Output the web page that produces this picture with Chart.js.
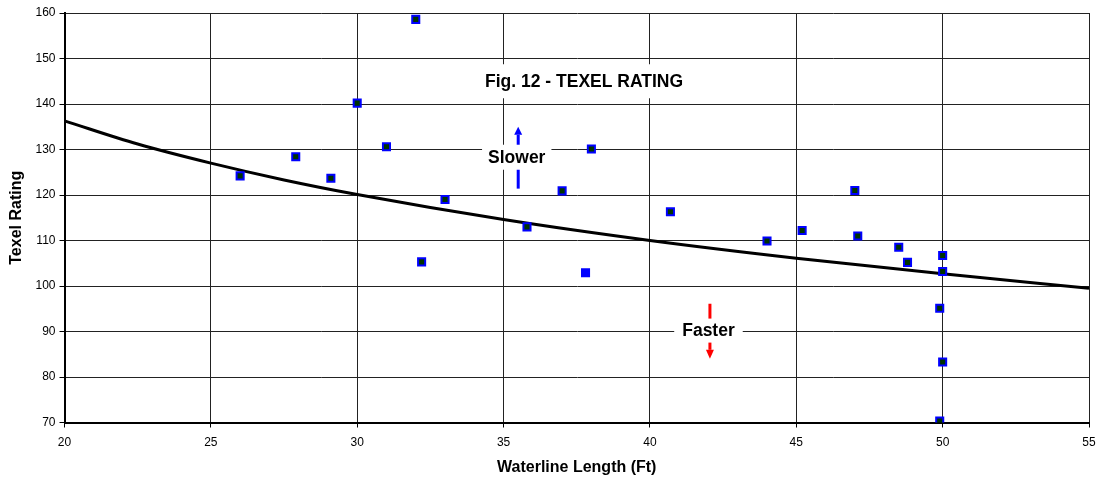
<!DOCTYPE html>
<html>
<head>
<meta charset="utf-8">
<script src="https://cdn.jsdelivr.net/npm/chart.js@4.4.1/dist/chart.umd.min.js"></script>
<style>
  html, body { margin: 0; padding: 0; background: #fff; }
  #wrap { width: 1099px; height: 477px; position: relative; }
</style>
</head>
<body>
<div id="wrap"><canvas id="c"></canvas></div>
<script>
// ---- data ----
const boatLengths = [26.0, 27.9, 29.1, 30.0, 31.0, 32.0, 32.2, 33.0, 35.8, 37.0, 38.0, 40.7, 44.0, 45.2, 47.0, 47.1, 48.5, 48.8, 50.0, 50.0, 49.9, 50.0, 49.9];
const boatRatings = [124.2, 128.4, 123.7, 140.2, 130.6, 158.6, 105.3, 119.0, 113.0, 120.9, 130.1, 116.3, 109.9, 112.2, 121.0, 111.0, 108.5, 105.2, 106.7, 103.2, 95.1, 83.3, 70.3];
const highlightLengths = [37.8];
const highlightRatings = [102.9];
const trendLengths = [20, 22.5, 25, 27.5, 30, 35, 40, 45, 50, 55];
const trendRatings = [136.3, 131.2, 127.0, 123.3, 120.1, 114.6, 110.0, 106.1, 102.7, 99.5];
const xTickValues = [20, 25, 30, 35, 40, 45, 50, 55];
const yTickValues = [70, 80, 90, 100, 110, 120, 130, 140, 150, 160];
const chartTitle = 'Fig. 12 - TEXEL RATING';
const xTitle = 'Waterline Length (Ft)';
const yTitle = 'Texel Rating';
const slowerText = 'Slower';
const fasterText = 'Faster';

Chart.defaults.font.family = "'Liberation Sans', Arial, sans-serif";
Chart.defaults.color = '#000';

const toPts = (xs, ys) => xs.map((v, i) => ({ x: v, y: ys[i] }));

function drawArrow(ctx, px, yFrom, yTo, color, lw, headW, headL) {
  const dir = yTo < yFrom ? -1 : 1;
  ctx.strokeStyle = color;
  ctx.fillStyle = color;
  ctx.lineWidth = lw;
  ctx.beginPath();
  ctx.moveTo(px, yFrom);
  ctx.lineTo(px, yTo - dir * headL);
  ctx.stroke();
  ctx.beginPath();
  ctx.moveTo(px, yTo);
  ctx.lineTo(px - headW / 2, yTo - dir * headL);
  ctx.lineTo(px + headW / 2, yTo - dir * headL);
  ctx.closePath();
  ctx.fill();
}

function boxedText(ctx, text, cx, cy, padX, h) {
  ctx.font = "bold 17.5px 'Liberation Sans', Arial, sans-serif";
  const w = ctx.measureText(text).width;
  ctx.fillStyle = '#fff';
  ctx.fillRect(cx - w / 2 - padX, cy - h / 2, w + 2 * padX, h);
  ctx.fillStyle = '#000';
  ctx.textAlign = 'center';
  ctx.textBaseline = 'middle';
  ctx.fillText(text, cx, cy + 1);
}

const annotPlugin = {
  id: 'annot',
  beforeDatasetsDraw(chart) {
    const { ctx, scales: { x, y } } = chart;
    ctx.save();
    // title
    boxedText(ctx, chartTitle, x.getPixelForValue(37.75), y.getPixelForValue(145), 8, 34);
    // slower
    drawArrow(ctx, x.getPixelForValue(35.5), y.getPixelForValue(121.4), y.getPixelForValue(135.0), '#0000ff', 3, 8, 8);
    boxedText(ctx, slowerText, x.getPixelForValue(35.45), y.getPixelForValue(128.3), 6, 25);
    // faster
    drawArrow(ctx, x.getPixelForValue(42.05), y.getPixelForValue(96.1), y.getPixelForValue(84.0), '#ff0000', 3, 8, 9);
    boxedText(ctx, fasterText, x.getPixelForValue(42.0), y.getPixelForValue(90.2), 8, 24);
    ctx.restore();
  }
};

new Chart(document.getElementById('c'), {
  type: 'scatter',
  data: {
    datasets: [
      {
        type: 'line',
        data: toPts(trendLengths, trendRatings),
        borderColor: '#000',
        borderWidth: 3,
        pointRadius: 0,
        fill: false,
        cubicInterpolationMode: 'monotone',
        order: 3
      },
      {
        data: toPts(boatLengths, boatRatings),
        pointStyle: 'rect',
        pointRadius: 5,
        borderWidth: 2,
        borderColor: '#0000ff',
        backgroundColor: '#003300',
        order: 1
      },
      {
        data: toPts(highlightLengths, highlightRatings),
        pointStyle: 'rect',
        pointRadius: 5,
        borderWidth: 2,
        borderColor: '#0000ff',
        backgroundColor: '#0000ff',
        order: 2
      }
    ]
  },
  options: {
    responsive: true,
    maintainAspectRatio: false,
    animation: false,
    layout: { padding: { left: 0, right: 10, top: 13, bottom: 0 } },
    plugins: {
      legend: { display: false },
      tooltip: { enabled: false }
    },
    scales: {
      x: {
        type: 'linear',
        min: 20, max: 55,
        afterBuildTicks: s => { s.ticks = xTickValues.map(v => ({ value: v })); },
        afterFit: s => { s.height = 54.5; s.paddingLeft = 0; s.paddingRight = 0; },
        grid: { color: '#222', lineWidth: 1, tickLength: 5, drawTicks: true, tickColor: '#000' },
        border: { color: '#000', width: 2 },
        ticks: { font: { size: 12 }, padding: 8, color: '#000' },
        title: { display: true, text: xTitle, font: { size: 16, weight: 'bold' }, padding: { top: 0, bottom: 0 }, color: '#000' }
      },
      y: {
        type: 'linear',
        min: 70, max: 160,
        afterBuildTicks: s => { s.ticks = yTickValues.map(v => ({ value: v })); },
        afterFit: s => { s.width = 64.5; s.paddingTop = 0; s.paddingBottom = 0; },
        grid: { color: '#222', lineWidth: 1, tickLength: 5, tickColor: '#000' },
        border: { color: '#000', width: 2 },
        ticks: { font: { size: 12 }, padding: 4, color: '#000' },
        title: { display: true, text: yTitle, font: { size: 16, weight: 'bold' }, padding: { top: 7, bottom: 0 }, color: '#000' }
      }
    }
  },
  plugins: [annotPlugin]
});
</script>
</body>
</html>
